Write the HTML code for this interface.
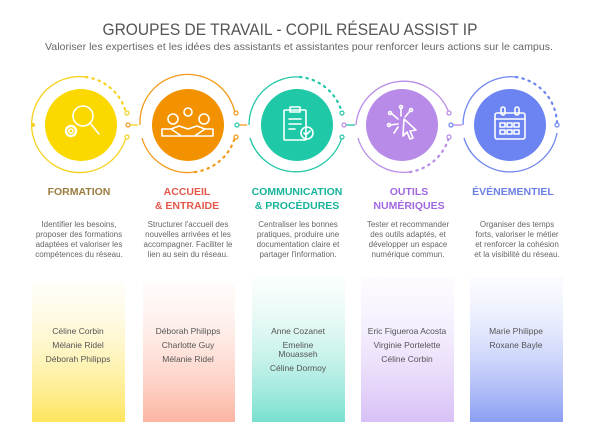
<!DOCTYPE html>
<html><head><meta charset="utf-8"><style>
html,body{margin:0;padding:0;background:#fff;}
svg{display:block;font-family:"Liberation Sans",sans-serif;}
</style></head><body>
<svg width="600" height="439" viewBox="0 0 600 439" xmlns="http://www.w3.org/2000/svg">
<defs>
<linearGradient id="g1" x1="0" y1="0" x2="0" y2="1"><stop offset="0" stop-color="#fffbe8" stop-opacity="0.3"/><stop offset="1" stop-color="#fde55e"/></linearGradient>
<linearGradient id="g2" x1="0" y1="0" x2="0" y2="1"><stop offset="0" stop-color="#fff4f0" stop-opacity="0.3"/><stop offset="1" stop-color="#fcb5a2"/></linearGradient>
<linearGradient id="g3" x1="0" y1="0" x2="0" y2="1"><stop offset="0" stop-color="#f0fbf8" stop-opacity="0.3"/><stop offset="1" stop-color="#78e0cf"/></linearGradient>
<linearGradient id="g4" x1="0" y1="0" x2="0" y2="1"><stop offset="0" stop-color="#f8f2ff" stop-opacity="0.3"/><stop offset="1" stop-color="#d7c0f6"/></linearGradient>
<linearGradient id="g5" x1="0" y1="0" x2="0" y2="1"><stop offset="0" stop-color="#f3f5ff" stop-opacity="0.3"/><stop offset="1" stop-color="#8a9ef4"/></linearGradient>
</defs>
<rect width="600" height="439" fill="#fff"/>
<text x="290" y="35" text-anchor="middle" font-size="16.5" fill="#555" textLength="375" lengthAdjust="spacingAndGlyphs">GROUPES DE TRAVAIL - COPIL RÉSEAU ASSIST IP</text>
<text x="299" y="50" text-anchor="middle" font-size="10.5" fill="#666" textLength="508" lengthAdjust="spacingAndGlyphs">Valoriser les expertises et les idées des assistants et assistantes pour renforcer leurs actions sur le campus.</text>

<!-- rings -->
<g fill="none" stroke-width="1.3">
 <g stroke="#f6d21e">
  <path d="M126 137 A48 48 0 1 1 86 77"/>
  <path d="M86 77 A48 48 0 0 1 126 113" stroke-dasharray="1.5 5" stroke-width="2.2" stroke-linecap="round"/>
  <path d="M128 125 H138"/>
 </g>
 <g stroke="#f39a1a">
  <path d="M140 125 A48 48 0 0 1 235 113"/>
  <path d="M142 138 A48 48 0 0 0 195 172"/>
  <path d="M195 172 A48 48 0 0 0 235 137" stroke-dasharray="1.5 5" stroke-width="2.2" stroke-linecap="round"/>
  <path d="M237 125 H247"/>
 </g>
 <g stroke="#22c7a8">
  <path d="M249 125 A48 48 0 0 1 300 77"/>
  <path d="M300 77 A48 48 0 0 1 342 113" stroke-dasharray="1.5 5" stroke-width="2.2" stroke-linecap="round"/>
  <path d="M250 138 A48 48 0 0 0 342 137"/>
  <path d="M344 125 H355"/>
 </g>
 <g stroke="#b88be8">
  <path d="M356 125 A48 48 0 0 1 449 113"/>
  <path d="M358 138 A48 48 0 0 0 410 172"/>
  <path d="M410 172 A48 48 0 0 0 449 137" stroke-dasharray="1.5 5" stroke-width="2.2" stroke-linecap="round"/>
  <path d="M451 125 H462"/>
 </g>
 <g stroke="#6e86ef">
  <path d="M463 125 A48 48 0 0 1 516 77"/>
  <path d="M516 77 A48 48 0 0 1 557 123" stroke-dasharray="1.5 5" stroke-width="2.2" stroke-linecap="round"/>
  <path d="M464 138 A48 48 0 0 0 557 133"/>
 </g>
</g>
<g fill="#fff" stroke-width="1.2">
 <circle cx="127" cy="113" r="2" stroke="#f6d21e"/><circle cx="127" cy="137" r="2" stroke="#f6d21e"/><circle cx="33" cy="125" r="2" fill="#f6d21e"/>
 <circle cx="128" cy="125" r="2" stroke="#f39a1a"/><circle cx="236" cy="113" r="2" stroke="#f39a1a"/><circle cx="236" cy="137" r="2" stroke="#f39a1a"/>
 <circle cx="237" cy="125" r="2" stroke="#22c7a8"/><circle cx="342" cy="113" r="2" stroke="#22c7a8"/><circle cx="342" cy="137" r="2" stroke="#22c7a8"/>
 <circle cx="344" cy="125" r="2" stroke="#b88be8"/><circle cx="449" cy="113" r="2" stroke="#b88be8"/><circle cx="449" cy="137" r="2" stroke="#b88be8"/>
 <circle cx="451" cy="125" r="2" stroke="#6e86ef"/><circle cx="557" cy="125" r="2" stroke="#6e86ef"/>
</g>
<!-- filled circles -->
<circle cx="81" cy="125" r="36" fill="#fbd800"/>
<circle cx="188" cy="125" r="36" fill="#f39200"/>
<circle cx="297" cy="125" r="36" fill="#1fc8a7"/>
<circle cx="402" cy="125" r="36" fill="#b88be8"/>
<circle cx="510" cy="125" r="36" fill="#6b84f1"/>

<!-- icons -->
<g fill="none" stroke="#fff" stroke-width="1.6" stroke-linecap="round" stroke-linejoin="round">
 <circle cx="83" cy="116" r="10"/><path d="M90 123 L99 134"/>
 <circle cx="71" cy="131" r="5" stroke-dasharray="2 1.5" stroke-width="2.5"/><circle cx="71" cy="131" r="2"/>
 <circle cx="173" cy="119" r="5"/><circle cx="204" cy="119" r="5"/><circle cx="188" cy="112" r="4"/>
 <path d="M162 136 v-7 h9 l8 -3 l9 3 l9 -3 l8 3 h8 v7 z M171 129 l9 6 M205 129 l-9 6"/>
 <rect x="284" y="110" width="22" height="30" rx="1"/><rect x="290" y="107" width="10" height="5"/>
 <path d="M289 119 h12 M289 124 h12 M289 129 h6"/><circle cx="307" cy="133" r="6"/><path d="M304 133 l2 2 l4 -4"/>
 <path d="M404 119 l12 11 l-6 1 l3 7 l-3 1 l-3 -7 l-4 4 z"/>
 <path d="M398 119 l-7 -6 M398 124 l-8 1 M401 116 l0 -8 M405 117 l5 -6 M398 127 l-4 6"/>
 <circle cx="390" cy="113" r="1.5"/><circle cx="389" cy="125" r="1.5"/><circle cx="401" cy="107" r="1.5"/><circle cx="411" cy="110" r="1.5"/>
 <rect x="495" y="113" width="30" height="26" rx="2"/><path d="M495 119 h30"/><rect x="501" y="107" width="4" height="8" rx="2"/><rect x="515" y="107" width="4" height="8" rx="2"/>
 <rect x="500" y="123" width="5" height="4"/><rect x="507" y="123" width="5" height="4"/><rect x="514" y="123" width="5" height="4"/>
 <rect x="500" y="130" width="5" height="4"/><rect x="507" y="130" width="5" height="4"/><rect x="514" y="130" width="5" height="4"/>
</g>

<!-- titles -->
<g font-size="10.5" font-weight="bold" text-anchor="middle">
 <text x="79" y="195" fill="#9a7b3e">FORMATION</text>
 <text x="187" y="195" fill="#e4584b">ACCUEIL</text><text x="187" y="209" fill="#e4584b">&amp; ENTRAIDE</text>
 <text x="297" y="195" fill="#17b49a">COMMUNICATION</text><text x="297" y="209" fill="#17b49a">&amp; PROCÉDURES</text>
 <text x="409" y="195" fill="#a068e0">OUTILS</text><text x="409" y="209" fill="#a068e0">NUMÉRIQUES</text>
 <text x="513" y="195" fill="#6d80e6">ÉVÉNEMENTIEL</text>
</g>
<!-- descriptions -->
<g font-size="8" fill="#666" text-anchor="middle">
 <text x="79" y="227">Identifier les besoins,</text><text x="79" y="237">proposer des formations</text><text x="79" y="247">adaptées et valoriser les</text><text x="79" y="257">compétences du réseau.</text>
 <text x="188" y="227">Structurer l'accueil des</text><text x="188" y="237">nouvelles arrivées et les</text><text x="188" y="247">accompagner. Faciliter le</text><text x="188" y="257">lien au sein du réseau.</text>
 <text x="298" y="227">Centraliser les bonnes</text><text x="298" y="237">pratiques, produire une</text><text x="298" y="247">documentation claire et</text><text x="298" y="257">partager l'information.</text>
 <text x="408" y="227">Tester et recommander</text><text x="408" y="237">des outils adaptés, et</text><text x="408" y="247">développer un espace</text><text x="408" y="257">numérique commun.</text>
 <text x="517" y="227">Organiser des temps</text><text x="517" y="237">forts, valoriser le métier</text><text x="517" y="247">et renforcer la cohésion</text><text x="517" y="257">et la visibilité du réseau.</text>
</g>
<!-- boxes -->
<rect x="32" y="282" width="93" height="140" fill="url(#g1)"/>
<rect x="143" y="282" width="92" height="140" fill="url(#g2)"/>
<rect x="252" y="277" width="93" height="145" fill="url(#g3)"/>
<rect x="361" y="277" width="93" height="145" fill="url(#g4)"/>
<rect x="470" y="277" width="93" height="145" fill="url(#g5)"/>
<g font-size="8.5" fill="#555" text-anchor="middle">
 <text x="78" y="334">Céline Corbin</text><text x="78" y="348">Mélanie Ridel</text><text x="78" y="362">Déborah Philipps</text>
 <text x="188" y="334">Déborah Philipps</text><text x="188" y="348">Charlotte Guy</text><text x="188" y="362">Mélanie Ridel</text>
 <text x="298" y="334">Anne Cozanet</text><text x="298" y="348">Emeline</text><text x="298" y="357">Mouasseh</text><text x="298" y="371">Céline Dormoy</text>
 <text x="407" y="334">Eric Figueroa Acosta</text><text x="407" y="348">Virginie Portelette</text><text x="407" y="362">Céline Corbin</text>
 <text x="516" y="334">Marie Philippe</text><text x="516" y="348">Roxane Bayle</text>
</g>
</svg>
</body></html>
